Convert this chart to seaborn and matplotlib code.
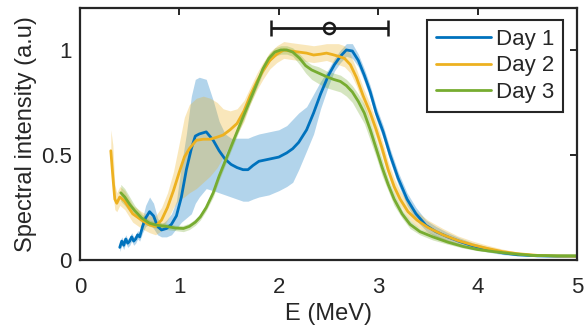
import numpy as np
import pandas as pd
import matplotlib
matplotlib.use('Agg')
import matplotlib.pyplot as plt
import seaborn as sns

# Day 1 (blue)
e1 = [0.40, 0.42, 0.44, 0.46, 0.48, 0.50, 0.52, 0.54, 0.56, 0.58, 0.60, 0.63, 0.66, 0.70, 0.74,
      0.78, 0.82, 0.87, 0.92, 0.97, 1.02, 1.07, 1.12, 1.16, 1.20, 1.27, 1.34, 1.40, 1.46, 1.52,
      1.58, 1.64, 1.69, 1.74, 1.80, 1.90, 2.00, 2.08, 2.14, 2.20, 2.28, 2.35, 2.42, 2.50, 2.56,
      2.62, 2.68, 2.74, 2.80, 2.86, 2.92, 2.98, 3.05, 3.12, 3.20, 3.29, 3.38, 3.48, 3.58, 3.70,
      3.82, 3.95, 4.10, 4.25, 4.40, 4.60, 4.80, 5.00]
day1 = [0.06, 0.09, 0.07, 0.10, 0.08, 0.09, 0.11, 0.09, 0.10, 0.12, 0.11, 0.16, 0.20, 0.23, 0.21,
        0.16, 0.143, 0.15, 0.17, 0.21, 0.30, 0.43, 0.53, 0.59, 0.60, 0.61, 0.57, 0.52, 0.48, 0.455,
        0.44, 0.43, 0.43, 0.45, 0.47, 0.48, 0.49, 0.51, 0.53, 0.56, 0.62, 0.70, 0.79, 0.88, 0.93,
        0.97, 1.00, 0.995, 0.95, 0.88, 0.80, 0.70, 0.61, 0.50, 0.39, 0.29, 0.22, 0.165, 0.135, 0.11,
        0.088, 0.068, 0.05, 0.034, 0.025, 0.02, 0.018, 0.018]
day1_lo = [0.04, 0.07, 0.05, 0.08, 0.06, 0.07, 0.09, 0.07, 0.08, 0.10, 0.09, 0.13, 0.16, 0.17, 0.15,
           0.12, 0.11, 0.11, 0.12, 0.15, 0.18, 0.20, 0.22, 0.27, 0.30, 0.34, 0.33, 0.32, 0.31, 0.30,
           0.29, 0.28, 0.28, 0.29, 0.30, 0.31, 0.33, 0.35, 0.37, 0.43, 0.52, 0.60, 0.72, 0.83, 0.90,
           0.94, 0.97, 0.96, 0.92, 0.85, 0.77, 0.67, 0.58, 0.47, 0.36, 0.26, 0.19, 0.14, 0.11, 0.09,
           0.07, 0.052, 0.038, 0.026, 0.02, 0.016, 0.015, 0.015]
day1_hi = [0.08, 0.11, 0.09, 0.12, 0.10, 0.11, 0.13, 0.11, 0.12, 0.14, 0.13, 0.20, 0.26, 0.30, 0.27,
           0.20, 0.17, 0.19, 0.22, 0.28, 0.45, 0.60, 0.78, 0.86, 0.87, 0.86, 0.76, 0.66, 0.60, 0.58,
           0.58, 0.58, 0.58, 0.59, 0.60, 0.61, 0.62, 0.64, 0.67, 0.70, 0.73, 0.79, 0.85, 0.91, 0.96,
           1.00, 1.03, 1.03, 0.98, 0.91, 0.83, 0.73, 0.64, 0.53, 0.42, 0.32, 0.25, 0.19, 0.16, 0.13,
           0.105, 0.082, 0.062, 0.042, 0.03, 0.024, 0.021, 0.021]

# Day 2 (yellow)
e2 = [0.31, 0.33, 0.35, 0.37, 0.40, 0.45, 0.53, 0.62, 0.70, 0.76, 0.82, 0.88, 0.94, 1.00, 1.05,
      1.10, 1.17, 1.24, 1.31, 1.38, 1.44, 1.51, 1.58, 1.65, 1.71, 1.78, 1.84, 1.91, 1.98, 2.05,
      2.12, 2.20, 2.28, 2.35, 2.42, 2.48, 2.54, 2.60, 2.66, 2.72, 2.78, 2.85, 2.92, 2.98, 3.04,
      3.10, 3.16, 3.22, 3.30, 3.39, 3.50, 3.65, 3.80, 3.95, 4.10, 4.25, 4.40, 4.60, 4.80, 5.00]
day2 = [0.52, 0.40, 0.29, 0.27, 0.30, 0.28, 0.22, 0.19, 0.167, 0.16, 0.19, 0.25, 0.33, 0.42, 0.49,
        0.53, 0.57, 0.575, 0.575, 0.585, 0.595, 0.62, 0.65, 0.71, 0.78, 0.85, 0.90, 0.95, 0.98, 1.00,
        0.995, 0.99, 0.985, 0.976, 0.98, 0.985, 0.978, 0.97, 0.96, 0.93, 0.87, 0.78, 0.70, 0.62, 0.53,
        0.43, 0.35, 0.29, 0.23, 0.19, 0.155, 0.12, 0.093, 0.072, 0.055, 0.04, 0.03, 0.022, 0.019, 0.018]
day2_lo = [0.45, 0.33, 0.24, 0.23, 0.26, 0.24, 0.18, 0.15, 0.13, 0.12, 0.14, 0.19, 0.25, 0.29, 0.30,
           0.32, 0.34, 0.37, 0.40, 0.44, 0.49, 0.55, 0.60, 0.66, 0.74, 0.81, 0.86, 0.91, 0.94, 0.96,
           0.955, 0.95, 0.945, 0.94, 0.945, 0.95, 0.94, 0.93, 0.92, 0.89, 0.83, 0.74, 0.66, 0.58, 0.49,
           0.40, 0.32, 0.26, 0.20, 0.16, 0.13, 0.10, 0.078, 0.06, 0.045, 0.032, 0.024, 0.018, 0.016, 0.015]
day2_hi = [0.62, 0.55, 0.36, 0.32, 0.35, 0.33, 0.26, 0.23, 0.21, 0.21, 0.25, 0.32, 0.42, 0.56, 0.68,
           0.74, 0.77, 0.78, 0.77, 0.75, 0.72, 0.71, 0.72, 0.76, 0.82, 0.89, 0.94, 0.99, 1.02, 1.04,
           1.035, 1.03, 1.025, 1.02, 1.025, 1.03, 1.03, 1.03, 1.02, 0.98, 0.91, 0.82, 0.74, 0.66, 0.57,
           0.47, 0.39, 0.33, 0.27, 0.23, 0.19, 0.15, 0.115, 0.09, 0.07, 0.052, 0.038, 0.027, 0.022, 0.021]

# Day 3 (green)
e3 = [0.41, 0.45, 0.50, 0.55, 0.62, 0.70, 0.78, 0.87, 0.96, 1.04, 1.10, 1.16, 1.21, 1.27, 1.34,
      1.40, 1.46, 1.52, 1.58, 1.64, 1.71, 1.78, 1.84, 1.90, 1.96, 2.02, 2.08, 2.14, 2.21, 2.27,
      2.33, 2.40, 2.48, 2.55, 2.62, 2.68, 2.74, 2.80, 2.86, 2.92, 2.98, 3.04, 3.10, 3.16, 3.24,
      3.32, 3.42, 3.55, 3.70, 3.85, 4.00, 4.16, 4.35, 4.55, 4.80, 5.00]
day3 = [0.32, 0.30, 0.265, 0.235, 0.20, 0.175, 0.165, 0.16, 0.152, 0.15, 0.16, 0.18, 0.205, 0.25, 0.32,
        0.40, 0.47, 0.54, 0.61, 0.68, 0.76, 0.84, 0.91, 0.96, 0.99, 1.00, 1.00, 0.99, 0.96, 0.925,
        0.905, 0.89, 0.873, 0.86, 0.85, 0.83, 0.80, 0.755, 0.70, 0.62, 0.53, 0.44, 0.36, 0.29, 0.22,
        0.17, 0.135, 0.11, 0.085, 0.065, 0.05, 0.04, 0.03, 0.022, 0.02, 0.02]
day3_lo = [0.28, 0.26, 0.23, 0.21, 0.18, 0.16, 0.15, 0.145, 0.14, 0.135, 0.145, 0.165, 0.19, 0.235, 0.30,
           0.38, 0.45, 0.52, 0.59, 0.66, 0.74, 0.82, 0.89, 0.94, 0.97, 0.98, 0.98, 0.97, 0.93, 0.89,
           0.86, 0.84, 0.82, 0.81, 0.80, 0.78, 0.75, 0.70, 0.65, 0.57, 0.49, 0.40, 0.33, 0.26, 0.20,
           0.15, 0.12, 0.095, 0.075, 0.057, 0.044, 0.035, 0.026, 0.019, 0.017, 0.017]
day3_hi = [0.36, 0.34, 0.30, 0.26, 0.22, 0.19, 0.18, 0.175, 0.165, 0.165, 0.175, 0.195, 0.22, 0.265, 0.34,
           0.42, 0.49, 0.56, 0.63, 0.70, 0.78, 0.86, 0.93, 0.98, 1.01, 1.02, 1.02, 1.01, 0.98, 0.95,
           0.93, 0.92, 0.90, 0.89, 0.88, 0.86, 0.83, 0.79, 0.74, 0.66, 0.57, 0.48, 0.39, 0.32, 0.24,
           0.19, 0.15, 0.125, 0.095, 0.073, 0.056, 0.045, 0.034, 0.025, 0.023, 0.023]

# peak marker with horizontal error bar
peak_e = 2.5
peak_y = 1.105
peak_err_lo = 0.58
peak_err_hi = 0.60

days = ['Day 1', 'Day 2', 'Day 3']
colors = ['#0072BD', '#EDB120', '#77AC30']

sns.set_theme(style="white")
plt.rcParams['font.family'] = ['Liberation Sans', 'DejaVu Sans']

df = pd.concat([
    pd.DataFrame({'E': e1, 'I': day1, 'Day': 'Day 1'}),
    pd.DataFrame({'E': e2, 'I': day2, 'Day': 'Day 2'}),
    pd.DataFrame({'E': e3, 'I': day3, 'Day': 'Day 3'}),
])

fig = plt.figure(figsize=(5.84, 3.31), dpi=100)
ax = fig.add_axes([0.137, 0.2145, 0.851, 0.7615])

bands = [(e1, day1_lo, day1_hi), (e2, day2_lo, day2_hi), (e3, day3_lo, day3_hi)]
for (x, lo, hi), c in zip(bands, colors):
    ax.fill_between(x, lo, hi, color=c, alpha=0.3, lw=0)

sns.lineplot(data=df, x='E', y='I', hue='Day', palette=colors, hue_order=days,
             lw=2, errorbar=None, ax=ax)

ax.errorbar([peak_e], [peak_y], xerr=[[peak_err_lo], [peak_err_hi]], fmt='o',
            color='k', mfc='none', mec='k', ms=8, mew=1.8, lw=2, capsize=6, capthick=2)

ax.set_xlim(0, 5)
ax.set_ylim(0, 1.2)
ax.set_xticks([0, 1, 2, 3, 4, 5])
ax.set_yticks([0, 0.5, 1])
ax.set_yticklabels(['0', '0.5', '1'])
ax.set_xlabel('E (MeV)', fontsize=17, color='#262626', labelpad=4)
ax.set_ylabel('Spectral intensity (a.u)', fontsize=17, color='#262626', labelpad=3)
ax.tick_params(direction='in', length=5, width=1.4, top=True, right=True,
               labelsize=16, colors='#262626')
ax.tick_params(axis='x', pad=12)
ax.tick_params(axis='y', pad=6)
for s in ax.spines.values():
    s.set_linewidth(1.6)
    s.set_color('#262626')

leg = ax.legend(loc='upper right', bbox_to_anchor=(0.972, 0.952), fontsize=16,
                frameon=True, fancybox=False, framealpha=1, edgecolor='#262626',
                handlelength=2.5, handletextpad=0.2, borderpad=0.4, labelspacing=0.25,
                borderaxespad=0)
leg.get_frame().set_linewidth(1.5)
for line in leg.get_lines():
    line.set_linewidth(2)

fig.savefig('out.png', dpi=100)
